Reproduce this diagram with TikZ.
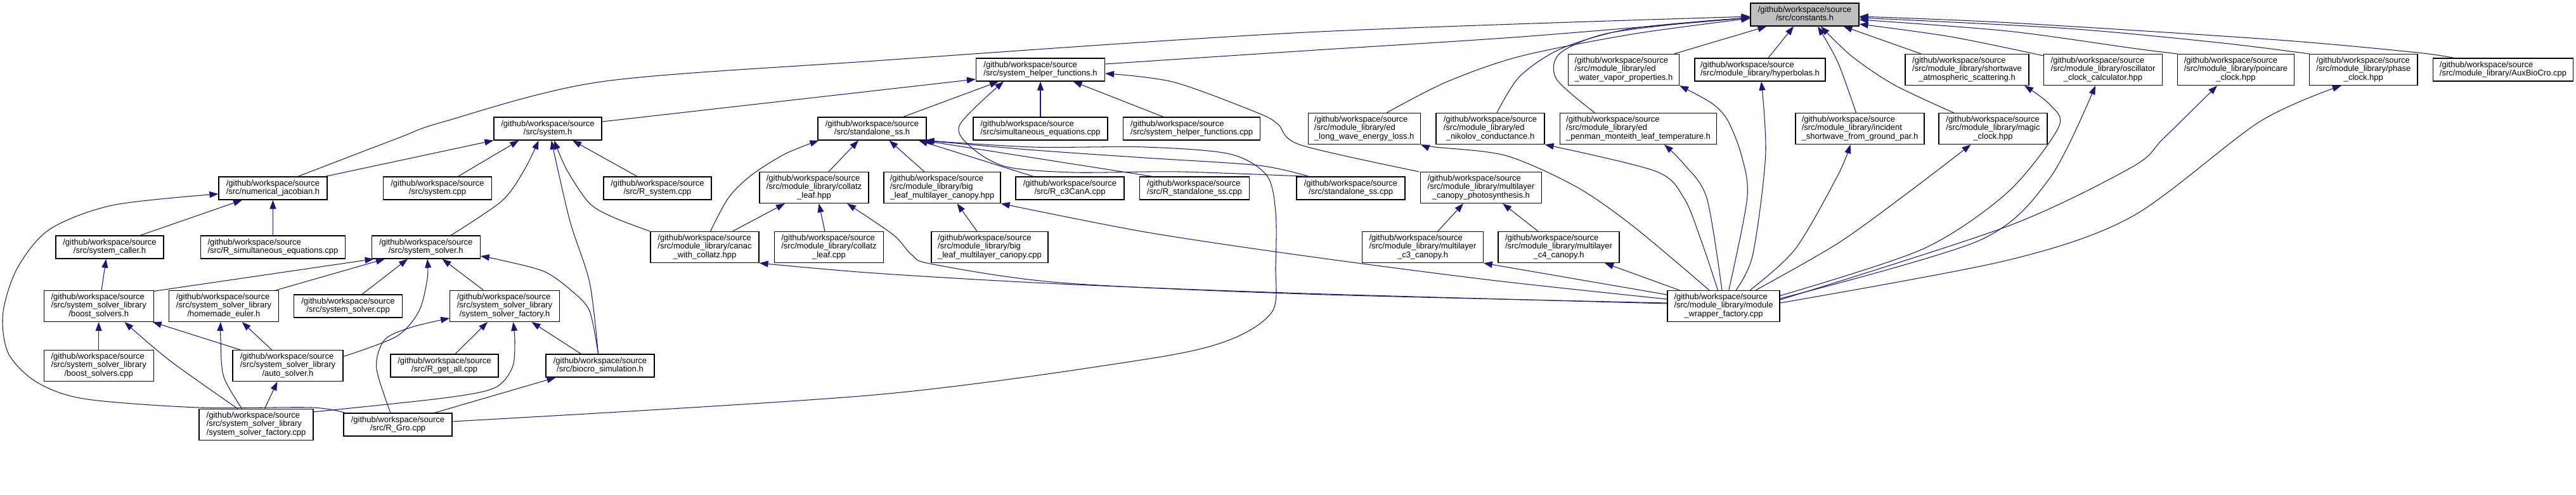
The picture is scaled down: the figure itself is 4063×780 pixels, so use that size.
\documentclass[tikz,border=0pt]{standalone}
\usepackage{fontspec}
\setmainfont{Liberation Sans}
\usetikzlibrary{arrows.meta}
\definecolor{edgeblue}{RGB}{25,25,112}
\definecolor{boxgray}{RGB}{191,191,191}
\newcommand\gws{/github/workspace/source}
\newcommand\ltwo[1]{\begin{tabular}{@{}l@{}}\gws\\\multicolumn{1}{@{}c@{}}{#1}\end{tabular}}
\newcommand\lthree[2]{\begin{tabular}{@{}l@{}}\gws\\#1\\\multicolumn{1}{@{}c@{}}{#2}\end{tabular}}
\tikzset{
  fbox/.style={draw=black,line width=1.2pt,fill=white,inner sep=0pt,
    font=\fontsize{13}{13.3}\selectfont},
  two/.style={fbox,minimum height=36pt,minimum width=#1},
  three/.style={fbox,minimum height=49pt,minimum width=#1},
  dep/.style={draw=edgeblue,line width=1.05pt,-{Triangle[length=14pt,width=10pt]}}
}
\begin{document}
\begin{tikzpicture}[x=1pt,y=1pt]
\fill[white] (0,0) rectangle (4063,-780);
\useasboundingbox (0,0) rectangle (4063,-780);
% row 0
\node[two=171pt,fill=boxgray] (constants) at (2846.5,-23) {\ltwo{/src/constants.h}};
% row 1
\node[two=203pt] (shfh) at (1641,-110) {\ltwo{/src/system\_helper\_functions.h}};
\node[three=175pt] (edwater) at (2561,-110) {\lthree{/src/module\_library/ed}{\_water\_vapor\_properties.h}};
\node[two=206pt] (hyperbolas) at (2776,-110) {\ltwo{/src/module\_library/hyperbolas.h}};
\node[three=195pt] (shortwave) at (3102.5,-110) {\lthree{/src/module\_library/shortwave}{\_atmospheric\_scattering.h}};
\node[three=187pt] (oscillator) at (3317,-110) {\lthree{/src/module\_library/oscillator}{\_clock\_calculator.hpp}};
\node[three=184pt] (poincare) at (3526.4,-110) {\lthree{/src/module\_library/poincare}{\_clock.hpp}};
\node[three=170.5pt] (phase) at (3727.8,-110) {\lthree{/src/module\_library/phase}{\_clock.hpp}};
\node[two=220.5pt] (auxbiocro) at (3948,-110) {\ltwo{/src/module\_library/AuxBioCro.cpp}};
% row 2
\node[two=170pt] (systemh) at (864,-203) {\ltwo{/src/system.h}};
\node[two=171pt] (standaloneh) at (1375.5,-203) {\ltwo{/src/standalone\_ss.h}};
\node[two=212pt] (simeq) at (1641,-203) {\ltwo{/src/simultaneous\_equations.cpp}};
\node[two=216pt] (shfcpp) at (1879.6,-203) {\ltwo{/src/system\_helper\_functions.cpp}};
\node[three=177pt] (edlong) at (2151.7,-203) {\lthree{/src/module\_library/ed}{\_long\_wave\_energy\_loss.h}};
\node[three=171pt] (ednikolov) at (2350.5,-203) {\lthree{/src/module\_library/ed}{\_nikolov\_conductance.h}};
\node[three=246.5pt] (edpenman) at (2584,-203) {\lthree{/src/module\_library/ed}{\_penman\_monteith\_leaf\_temperature.h}};
\node[three=203pt] (incident) at (2933.5,-203) {\lthree{/src/module\_library/incident}{\_shortwave\_from\_ground\_par.h}};
\node[three=171pt] (magic) at (3143.5,-203) {\lthree{/src/module\_library/magic}{\_clock.hpp}};
% row 3
\node[two=171pt] (numjac) at (430.5,-297) {\ltwo{/src/numerical\_jacobian.h}};
\node[two=170.5pt] (systemcpp) at (690,-297) {\ltwo{/src/system.cpp}};
\node[two=170pt] (rsystem) at (1037,-297) {\ltwo{/src/R\_system.cpp}};
\node[three=172pt] (collatzhpp) at (1284,-296) {\lthree{/src/module\_library/collatz}{\_leaf.hpp}};
\node[three=184pt] (bigleafhpp) at (1486,-296) {\lthree{/src/module\_library/big}{\_leaf\_multilayer\_canopy.hpp}};
\node[two=171pt] (rcthree) at (1687.5,-297) {\ltwo{/src/R\_c3CanA.cpp}};
\node[two=172.5pt] (rstandalone) at (1884,-297) {\ltwo{/src/R\_standalone\_ss.cpp}};
\node[two=171pt] (standalonecpp) at (2130.5,-297) {\ltwo{/src/standalone\_ss.cpp}};
\node[three=190.5pt] (mlphoto) at (2336,-296) {\lthree{/src/module\_library/multilayer}{\_canopy\_photosynthesis.h}};
% row 4
\node[two=170pt] (caller) at (173,-390) {\ltwo{/src/system\_caller.h}};
\node[two=228pt] (rsimeq) at (430.5,-390) {\ltwo{/src/R\_simultaneous\_equations.cpp}};
\node[two=171pt] (solverh) at (671.7,-390) {\ltwo{/src/system\_solver.h}};
\node[three=171pt] (canac) at (1111.5,-390) {\lthree{/src/module\_library/canac}{\_with\_collatz.hpp}};
\node[three=172pt] (collatzcpp) at (1307.5,-390) {\lthree{/src/module\_library/collatz}{\_leaf.cpp}};
\node[three=184pt] (bigleafcpp) at (1561,-390) {\lthree{/src/module\_library/big}{\_leaf\_multilayer\_canopy.cpp}};
\node[three=190.5pt] (mlcthree) at (2244,-390) {\lthree{/src/module\_library/multilayer}{\_c3\_canopy.h}};
\node[three=191pt] (mlcfour) at (2458.5,-390) {\lthree{/src/module\_library/multilayer}{\_c4\_canopy.h}};
% row 5
\node[three=173pt] (boosth) at (155.7,-483) {\lthree{/src/system\_solver\_library}{/boost\_solvers.h}};
\node[three=173pt] (euler) at (353,-483) {\lthree{/src/system\_solver\_library}{/homemade\_euler.h}};
\node[two=170.5pt] (solvercpp) at (549,-483) {\ltwo{/src/system\_solver.cpp}};
\node[three=172.5pt] (ssfh) at (796,-483) {\lthree{/src/system\_solver\_library}{/system\_solver\_factory.h}};
\node[three=177pt] (mwf) at (2718.5,-483) {\lthree{/src/module\_library/module}{\_wrapper\_factory.cpp}};
% row 6
\node[three=173pt] (boostcpp) at (155.7,-577) {\lthree{/src/system\_solver\_library}{/boost\_solvers.cpp}};
\node[three=174pt] (autosolver) at (454,-577) {\lthree{/src/system\_solver\_library}{/auto\_solver.h}};
\node[two=170pt] (rgetall) at (701,-577) {\ltwo{/src/R\_get\_all.cpp}};
\node[two=171pt] (biocro) at (946.5,-577) {\ltwo{/src/biocro\_simulation.h}};
% row 7
\node[three=180pt] (ssfcpp) at (404,-670) {\lthree{/src/system\_solver\_library}{/system\_solver\_factory.cpp}};
\node[two=171pt] (rgro) at (627.5,-670) {\ltwo{/src/R\_Gro.cpp}};

% edges
\draw[dep] plot[smooth] coordinates {([xshift=39.5pt]numjac.north) (625,-219) (700,-192) (948,-129) (1380,-96) (2060,-51) ([yshift=-3pt]constants.west)};
\draw[dep] ([xshift=82.5pt]numjac.north) -- (systemh.south west);
\draw[dep] plot[smooth] coordinates {([xshift=3pt]rgro.north west) (491,-643) (312.5,-643) (134,-629.4) (58,-603) (13.4,-558) (4.5,-495.5) (26.8,-424) (78,-362) (178.6,-323.6) ([yshift=-9pt]numjac.west)};
\draw[dep] ([xshift=48pt]caller.north) -- ([xshift=-48.5pt]numjac.south);
\draw[dep] (rsimeq.north) -- (numjac.south);
\draw[dep] ([xshift=4.3pt]boosth.north) -- ([xshift=-5.6pt]caller.south);
\draw[dep] ([yshift=-1.5pt]boosth.north east) -- ([xshift=4pt]solverh.south west);
\draw[dep] ([xshift=82pt]euler.north) -- ([xshift=-64.7pt]solverh.south);
\draw[dep] ([xshift=22pt]solvercpp.north) -- ([xshift=-28.7pt]solverh.south);
\draw[dep] plot[smooth] coordinates {([yshift=14.5pt]autosolver.east) (625,-531) (660.7,-491) (674,-440) ([xshift=2.3pt]solverh.south)};
\draw[dep] ([xshift=-33.4pt]ssfh.north) -- ([xshift=26pt]solverh.south);
\draw[dep] plot[smooth] coordinates {([xshift=-3pt]biocro.north) (930,-491) (903,-460) (858.6,-428.5) (791.6,-410.7) ([yshift=-14pt]solverh.east)};
\draw[dep] (boostcpp.north) -- (boosth.south);
\draw[dep] plot[smooth] coordinates {([xshift=-29pt]ssfcpp.north) (268,-569) ([xshift=40.7pt]boosth.south)};
\draw[dep] ([xshift=-75pt]autosolver.north) -- ([xshift=-2pt]boosth.south east);
\draw[dep] plot[smooth] coordinates {([xshift=-22.3pt]ssfcpp.north) (352.7,-594) (348,-535.7) ([xshift=-5pt]euler.south)};
\draw[dep] ([xshift=-25.5pt]autosolver.north) -- ([xshift=28.7pt]euler.south);
\draw[dep] ([xshift=13.4pt]ssfcpp.north) -- ([xshift=-16.5pt]autosolver.south);
\draw[dep] plot[smooth] coordinates {([yshift=-5pt]ssfcpp.north east) (700,-628) (780,-612) (808,-580) (812,-540) ([xshift=13.5pt]ssfh.south)};
\draw[dep] plot[smooth] coordinates {([xshift=-11.5pt]rgro.north) (593.7,-580) (607,-535.7) (650,-516) ([yshift=-19pt]ssfh.west)};
\draw[dep] ([xshift=57.5pt]rgro.north) -- ([xshift=-70pt]biocro.south);
\draw[dep] plot[smooth] coordinates {([yshift=5pt]rgro.east) (1380,-623) (1806,-567) (1940,-536) (2007,-491) (2012,-420) (2012,-335) (1998,-277) (1940,-243) (1806,-232) (1628,-232) ([xshift=-2pt]standaloneh.south east)};
\draw[dep] ([xshift=32.4pt]systemcpp.north) -- ([xshift=-45.6pt]systemh.south);
\draw[dep] plot[smooth] coordinates {([xshift=39.3pt]solverh.north) (791.6,-317) (827,-268) ([xshift=-14.4pt]systemh.south)};
\draw[dep] plot[smooth] coordinates {([xshift=-3pt]biocro.north) (930,-446) (898.7,-348) ([xshift=5.7pt]systemh.south)};
\draw[dep] plot[smooth] coordinates {(canac.north west) (970,-344) (930,-321) (894,-268) ([xshift=10pt]systemh.south)};
\draw[dep] ([xshift=-32pt]rsystem.north) -- ([xshift=39pt]systemh.south);
\draw[dep] ([yshift=11pt]systemh.east) -- ([yshift=-15pt]shfh.west);
\draw[dep] plot[smooth] coordinates {([xshift=9pt]canac.north) (1148.7,-312.5) (1184.5,-276.8) (1238,-243) ([xshift=2pt]standaloneh.south west)};
\draw[dep] ([xshift=23pt]collatzhpp.north) -- ([xshift=-21.5pt]standaloneh.south);
\draw[dep] ([xshift=44pt]canac.north) -- ([xshift=-46pt]collatzhpp.south);
\draw[dep] ([xshift=-6.5pt]collatzcpp.north) -- ([xshift=7.6pt]collatzhpp.south);
\draw[dep] plot[smooth] coordinates {([yshift=5pt]mwf.west) (2060,-464) (1672.5,-446) (1471.6,-417) (1438,-402) (1409,-370.5) ([xshift=52pt]collatzhpp.south)};
\draw[dep] plot[smooth] coordinates {([yshift=4pt]mwf.west) (2060,-463) (1672.5,-448) (1380,-431) (canac.south east)};
\draw[dep] ([xshift=49pt]standaloneh.north) -- ([xshift=-66pt]shfh.south);
\draw[dep] (simeq.north) -- (shfh.south);
\draw[dep] ([xshift=-44.6pt]shfcpp.north) -- ([xshift=51.6pt]shfh.south);
\draw[dep] plot[smooth] coordinates {([xshift=-68pt]standalonecpp.north) (1860,-271) (1692,-272) (1587,-263) (1532.6,-233) (1513.6,-197) ([xshift=-58pt]shfh.south)};
\draw[dep] plot[smooth] coordinates {([xshift=-66pt]standalonecpp.north) (1985,-261) (1806,-249) (1628,-236.6) ([xshift=-3pt]standaloneh.south east)};
\draw[dep] ([xshift=-57.5pt]rcthree.north) -- ([xshift=73.5pt]standaloneh.south);
\draw[dep] ([xshift=-66.4pt]rstandalone.north) -- ([xshift=80pt]standaloneh.south);
\draw[dep] ([xshift=-28pt]bigleafhpp.north) -- ([xshift=27pt]standaloneh.south);
\draw[dep] ([xshift=-20pt]bigleafcpp.north) -- ([xshift=23.5pt]bigleafhpp.south);
\draw[dep] plot[smooth] coordinates {([yshift=11pt]mwf.west) (2352,-442) (2060,-404) (1806,-366) (bigleafhpp.south east)};
\draw[dep] plot[smooth] coordinates {([xshift=-2pt]mlphoto.north west) (2051,-228.6) (2016,-196.4) (1985,-178.6) (1851,-129.5) ([yshift=-6pt]shfh.east)};
\draw[dep] plot[smooth] coordinates {([yshift=9pt]shfh.east) (2060,-80) (2400,-58) ([yshift=-5pt]constants.west)};
\draw[dep] plot[smooth] coordinates {([xshift=35.3pt]edlong.north) (2281,-129.5) (2397,-89) (2576,-53.6) ([yshift=-6pt]constants.west)};
\draw[dep] plot[smooth] coordinates {([xshift=10.5pt]ednikolov.north) (2397,-120.5) (2464,-76) (2576,-44.6) ([yshift=-5pt]constants.west)};
\draw[dep] plot[smooth] coordinates {([xshift=-68.6pt]edpenman.north) (2455,-125) (2459.6,-84.8) (2531,-53.6) (2665,-35.7) ([yshift=-5pt]constants.west)};
\draw[dep] ([xshift=-8.5pt]edwater.north east) -- ([xshift=26pt]constants.south west);
\draw[dep] plot[smooth] coordinates {([xshift=-22.5pt]mwf.north) (2576,-357) (2486,-294.6) (2375,-245.5) (2263,-232) (edlong.south east)};
\draw[dep] plot[smooth] coordinates {([xshift=-9pt]mwf.north) (2683,-379) (2656,-312.5) (2611,-270) (ednikolov.south east)};
\draw[dep] plot[smooth] coordinates {([xshift=-2.5pt]mwf.north) (2692,-312.5) (2656,-259) ([xshift=41pt]edpenman.south)};
\draw[dep] plot[smooth] coordinates {([xshift=8.2pt]mwf.north) (2755.7,-312.5) (2746.8,-245.5) (2725,-190) (2700,-163) (edwater.south east)};
\draw[dep] ([xshift=23.7pt]mlcthree.north) -- ([xshift=-28pt]mlphoto.south);
\draw[dep] ([xshift=-32.5pt]mlcfour.north) -- ([xshift=34pt]mlphoto.south);
\draw[dep] ([yshift=18pt]mwf.west) -- (mlcthree.south east);
\draw[dep] ([xshift=-69.5pt]mwf.north) -- ([xshift=72.5pt]mlcfour.south);
\draw[dep] ([xshift=13pt]hyperbolas.north) -- ([xshift=-17.5pt]constants.south);
\draw[dep] plot[smooth] coordinates {([xshift=19.5pt]mwf.north) (2764.6,-401.8) (2784.7,-245.5) ([xshift=2pt]hyperbolas.south)};
\draw[dep] plot[smooth] coordinates {([xshift=-6pt]incident.north) (2898.6,-98) ([xshift=20.5pt]constants.south)};
\draw[dep] plot[smooth] coordinates {([xshift=41.5pt]mwf.north) (2831.6,-392.8) (2898.6,-276.8) ([xshift=-15pt]incident.south)};
\draw[dep] plot[smooth] coordinates {([xshift=-62pt]magic.north) (2987.8,-134) (2921,-89) ([xshift=25.3pt]constants.south)};
\draw[dep] plot[smooth] coordinates {([xshift=50.5pt]mwf.north) (2898.6,-384) (3010,-303.5) ([xshift=-35pt]magic.south)};
\draw[dep] ([xshift=-72.5pt]shortwave.north) -- ([xshift=61pt]constants.south);
\draw[dep] plot[smooth] coordinates {([yshift=16.5pt]mwf.east) (3032.5,-393) (3166.4,-303.5) (3246.8,-201) (3233,-165) ([xshift=90.5pt]shortwave.south)};
\draw[dep] plot[smooth] coordinates {([yshift=-3pt]oscillator.north west) (3077,-58) ([yshift=-15pt]constants.east)};
\draw[dep] plot[smooth] coordinates {([yshift=12pt]mwf.east) (3121.8,-379.4) (3233,-281) ([xshift=-12pt]oscillator.south)};
\draw[dep] plot[smooth] coordinates {(poincare.north west) (3363,-76) (3166.4,-49) ([yshift=-8pt]constants.east)};
\draw[dep] plot[smooth] coordinates {([yshift=10pt]mwf.east) (3166.4,-357) (3363,-263.4) (3412,-218.7) ([xshift=-29.4pt]poincare.south)};
\draw[dep] plot[smooth] coordinates {(phase.north west) (3497,-67) (3255.7,-44.6) ([yshift=-5pt]constants.east)};
\draw[dep] plot[smooth] coordinates {([yshift=5pt]mwf.east) (3166,-410.7) (3363,-341.5) (3564,-192) ([xshift=-35pt]phase.south)};
\draw[dep] plot[smooth] coordinates {([xshift=-78pt]auxbiocro.north) (3809.4,-82.6) (3586,-62.5) (3166.4,-35.7) ([yshift=-3pt]constants.east)};
\draw[dep] ([xshift=17pt]rgetall.north) -- ([xshift=-27pt]ssfh.south);
\draw[dep] ([xshift=-30pt]biocro.north) -- ([xshift=42.5pt]ssfh.south);
\end{tikzpicture}
\end{document}
